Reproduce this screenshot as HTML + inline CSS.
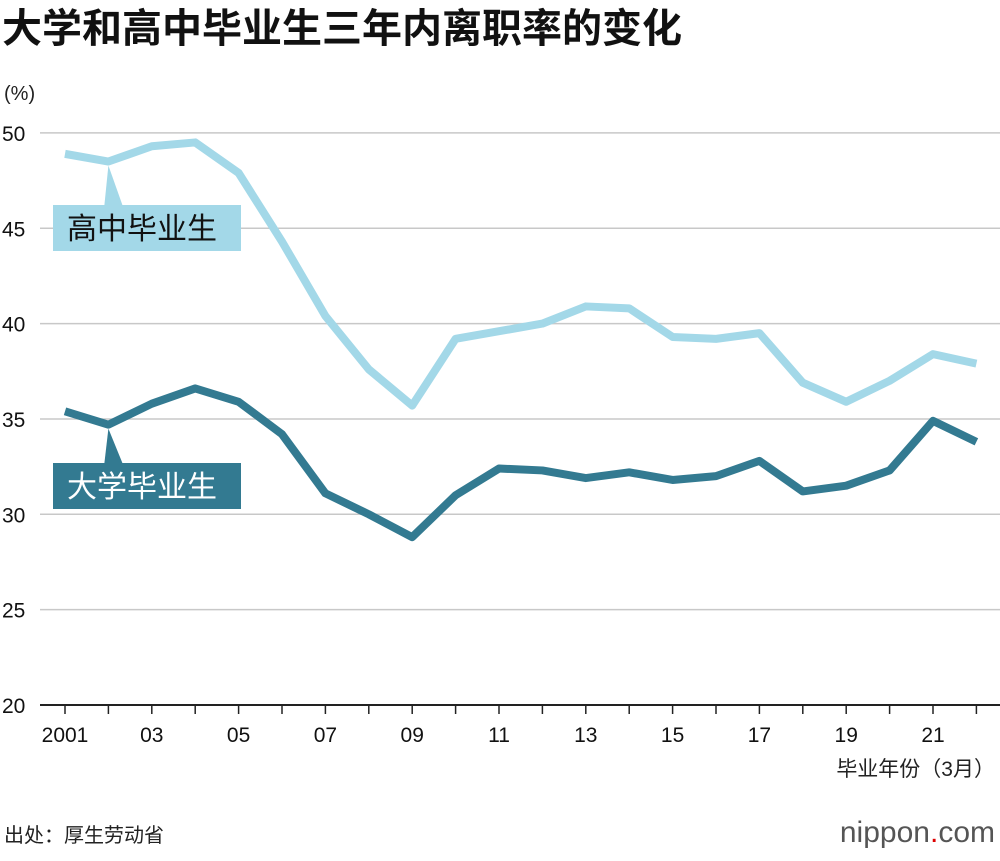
<!DOCTYPE html>
<html><head><meta charset="utf-8"><style>
body{margin:0;background:#fff;width:1000px;height:856px;overflow:hidden;font-family:"Liberation Sans","Noto Sans CJK SC",sans-serif}
</style></head><body>
<svg id="c" width="1000" height="856" xmlns="http://www.w3.org/2000/svg" font-family="Liberation Sans, Noto Sans CJK SC, sans-serif">
<text x="2" y="42" font-size="40" font-weight="bold" fill="#111">大学和高中毕业生三年内离职率的变化</text>
<text x="4" y="100" font-size="20" fill="#222">(%)</text>
<g id="grid"></g><g id="xa"></g><g id="lines"></g>
<text x="995" y="776" font-size="21" fill="#222" text-anchor="end">毕业年份（3月）</text>
<text x="4" y="842" font-size="20" fill="#222">出处：厚生劳动省</text>
<text x="995" y="842" font-size="30" fill="#555" text-anchor="end">nippon<tspan fill="#d00">.</tspan>com</text>
</svg>
<script>
const years=[2001,2002,2003,2004,2005,2006,2007,2008,2009,2010,2011,2012,2013,2014,2015,2016,2017,2018,2019,2020,2021,2022];
const highSchool=[48.9,48.5,49.3,49.5,47.9,44.3,40.4,37.6,35.7,39.2,39.6,40.0,40.9,40.8,39.3,39.2,39.5,36.9,35.9,37.0,38.4,37.9];
const university=[35.4,34.7,35.8,36.6,35.9,34.2,31.1,30.0,28.8,31.0,32.4,32.3,31.9,32.2,31.8,32.0,32.8,31.2,31.5,32.3,34.9,33.8];
const yTicks=[20,25,30,35,40,45,50];
const xTickLabels=["2001","03","05","07","09","11","13","15","17","19","21"];
const NS="http://www.w3.org/2000/svg";
const X=v=>65+(v-2001)*43.4, Y=v=>705-(v-20)*19.07;
function mk(t,a,p){const e=document.createElementNS(NS,t);for(const k in a)e.setAttribute(k,a[k]);p.appendChild(e);return e;}
const g=document.getElementById('grid'),xa=document.getElementById('xa'),L=document.getElementById('lines');
yTicks.forEach(v=>{
 if(v>20){const l=mk('line',{x1:40,x2:1000,y1:Y(v),y2:Y(v),stroke:'#c8c8c8','stroke-width':1.5},g);
 
 }
 const t=mk('text',{x:2,y:Y(v)+8,'font-size':21,fill:'#111'},g);t.textContent=v;
 
 
});
const ax=mk('line',{x1:40,x2:1000,y1:705,y2:705,stroke:'#222','stroke-width':2},xa);


years.forEach(y=>{mk('line',{x1:X(y),x2:X(y),y1:705,y2:714,stroke:'#222','stroke-width':1.5},xa);});
xTickLabels.forEach((s,i)=>{const yr=2001+i*2;const t=mk('text',{x:X(yr),y:742,'font-size':21,fill:'#111','text-anchor':'middle'},xa);t.textContent=s;
 
 });
function line(vals,col,name){const d=vals.map((v,i)=>(i?'L':'M')+X(years[i])+','+Y(v)).join('');
 const p=mk('path',{d:d,fill:'none',stroke:col,'stroke-width':8,'stroke-linejoin':'round'},L);
 
 }
line(highSchool,'#a3d8e8','high-school-line');
line(university,'#337a91','university-line');
function label(vals,col,tc,text,top,name){const px=X(2002),py=Y(vals[1]);
 const gg=mk('g',{},L);
 
 
 mk('polygon',{points:`${px},${py+4} ${px-4},${top} ${px+14},${top}`,fill:col},gg);
 mk('rect',{x:53,y:top,width:188,height:46,fill:col},gg);
 const t=mk('text',{x:67,y:top+34,'font-size':30,fill:tc},gg);t.textContent=text;}
label(highSchool,'#a3d8e8','#111','高中毕业生',205,'high-school-label');
label(university,'#337a91','#fff','大学毕业生',463,'university-label');
</script>
</body></html>
